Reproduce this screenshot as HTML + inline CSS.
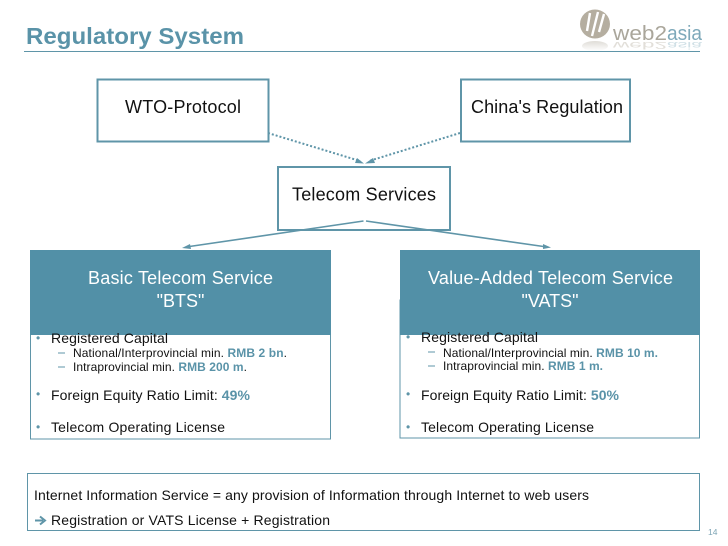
<!DOCTYPE html>
<html lang="en">
<head>
<meta charset="utf-8">
<title>Regulatory System</title>
<style>
html,body{margin:0;padding:0;background:#fff;}
#p{position:relative;width:728px;height:546px;overflow:hidden;background:#fff;}
svg{position:absolute;left:0;top:0;}
text{font-family:"Liberation Sans",Arial,sans-serif;fill:#111;}
.b{fill:#5a93a8;font-weight:bold;}
</style>
</head>
<body>
<div id="p">
<svg width="728" height="546" viewBox="0 0 728 546" xmlns="http://www.w3.org/2000/svg">
<defs>
<linearGradient id="fade" x1="0" y1="0" x2="0" y2="1">
<stop offset="0" stop-color="#b9b3a6" stop-opacity=".45"/>
<stop offset="1" stop-color="#b9b3a6" stop-opacity="0"/>
</linearGradient>
</defs>

<!-- title -->
<text x="26" y="44" font-size="23.5" font-weight="bold" style="fill:#5a93a8" textLength="218" lengthAdjust="spacingAndGlyphs">Regulatory System</text>
<line x1="24" y1="51.5" x2="700" y2="51.5" stroke="#5f95a8" stroke-width="1"/>

<!-- logo -->
<ellipse cx="595" cy="24" rx="15" ry="14.5" fill="#b5aea0"/>
<path d="M590 13 L587 31 M598 12 L592 36 M604 14 L599 32" stroke="#fff" stroke-width="2.4" fill="none"/>
<ellipse cx="595" cy="46" rx="13" ry="5" fill="url(#fade)"/>
<text x="613" y="40" font-size="20" style="fill:#aaa69b" textLength="54" lengthAdjust="spacingAndGlyphs">web2</text>
<text x="667" y="40" font-size="20" style="fill:#7ea9ba" textLength="35" lengthAdjust="spacingAndGlyphs">asia</text>
<text transform="translate(613,42) scale(1,-.5)" font-size="20" style="fill:#e2dfd9" textLength="54" lengthAdjust="spacingAndGlyphs">web2</text>
<text transform="translate(667,42) scale(1,-.5)" font-size="20" style="fill:#d0e0e6" textLength="35" lengthAdjust="spacingAndGlyphs">asia</text>

<!-- top boxes -->
<rect x="97.5" y="79.5" width="171" height="62" fill="#fff" stroke="#5f95a8" stroke-width="2"/>
<text x="125" y="113" font-size="18" textLength="116">WTO-Protocol</text>
<rect x="461" y="79.5" width="169" height="62" fill="#fff" stroke="#5f95a8" stroke-width="2"/>
<text x="471" y="113" font-size="18" textLength="152">China's Regulation</text>

<!-- dotted connectors -->
<line x1="268" y1="133" x2="360" y2="161" stroke="#5f95a8" stroke-width="2" stroke-dasharray="2 2"/>
<polygon points="364,163.5 357,158 355,163" fill="#5f95a8"/>
<line x1="460" y1="133" x2="369" y2="161" stroke="#5f95a8" stroke-width="2" stroke-dasharray="2 2"/>
<polygon points="365,163.5 373,158 375,163" fill="#5f95a8"/>

<!-- telecom -->
<rect x="278" y="167" width="172" height="63" fill="#fff" stroke="#5f95a8" stroke-width="2"/>
<text x="292" y="200.5" font-size="18" textLength="144">Telecom Services</text>

<!-- solid connectors -->
<line x1="363.5" y1="221" x2="186" y2="247" stroke="#5f95a8" stroke-width="1.6"/>
<polygon points="182,248 190,244 191,249" fill="#5f95a8"/>
<line x1="366" y1="221" x2="547" y2="247" stroke="#5f95a8" stroke-width="1.6"/>
<polygon points="551,247.5 543,244 543,249" fill="#5f95a8"/>

<!-- BTS -->
<rect x="30.5" y="300" width="300" height="139" fill="#fff" stroke="#5f95a8" stroke-width="1"/>
<rect x="30" y="250" width="301" height="85" fill="#5290a7"/>
<text x="88" y="284" font-size="18" style="fill:#fff" textLength="185">Basic Telecom Service</text>
<text x="180.5" y="307" font-size="18" text-anchor="middle" style="fill:#fff">"BTS"</text>
<text x="36" y="342" font-size="12" style="fill:#5f95a8">•</text>
<text x="51" y="343" font-size="14" textLength="117">Registered Capital</text>
<rect x="58" y="352.500" width="7" height="1" fill="#5f95a8"/>
<text x="73" y="357" font-size="12" textLength="214">National/Interprovincial min. <tspan class="b">RMB 2 bn</tspan>.</text>
<rect x="58" y="366.500" width="7" height="1" fill="#5f95a8"/>
<text x="73" y="371" font-size="12" textLength="174">Intraprovincial min. <tspan class="b">RMB 200 m</tspan>.</text>
<text x="36" y="398" font-size="12" style="fill:#5f95a8">•</text>
<text x="51" y="400" font-size="14" textLength="199">Foreign Equity Ratio Limit: <tspan class="b">49%</tspan></text>
<text x="36" y="431" font-size="12" style="fill:#5f95a8">•</text>
<text x="51" y="432" font-size="14" textLength="174">Telecom Operating License</text>

<!-- VATS -->
<rect x="400" y="300" width="299.500" height="138" fill="#fff" stroke="#5f95a8" stroke-width="1"/>
<rect x="400" y="250" width="300" height="85" fill="#5290a7"/>
<text x="428" y="284" font-size="18" style="fill:#fff" textLength="245">Value-Added Telecom Service</text>
<text x="550" y="307" font-size="18" text-anchor="middle" style="fill:#fff">"VATS"</text>
<text x="406" y="341" font-size="12" style="fill:#5f95a8">•</text>
<text x="421" y="342" font-size="14" textLength="117">Registered Capital</text>
<rect x="428" y="351.500" width="7" height="1" fill="#5f95a8"/>
<text x="443" y="357" font-size="12" textLength="215">National/Interprovincial min. <tspan class="b">RMB 10 m.</tspan></text>
<rect x="428" y="365.500" width="7" height="1" fill="#5f95a8"/>
<text x="443" y="370" font-size="12" textLength="160">Intraprovincial min. <tspan class="b">RMB 1 m.</tspan></text>
<text x="406" y="398" font-size="12" style="fill:#5f95a8">•</text>
<text x="421" y="400" font-size="14" textLength="198">Foreign Equity Ratio Limit: <tspan class="b">50%</tspan></text>
<text x="406" y="431" font-size="12" style="fill:#5f95a8">•</text>
<text x="421" y="432" font-size="14" textLength="173">Telecom Operating License</text>

<!-- bottom box -->
<rect x="27.500" y="473.500" width="672" height="57" fill="#fff" stroke="#5f95a8" stroke-width="1"/>
<text x="34" y="500" font-size="14" textLength="555">Internet Information Service = any provision of Information through Internet to web users</text>
<path d="M35 520.500 H43 M40 516.500 L45 520.500 L40 524.500" fill="none" stroke="#5f95a8" stroke-width="2"/>
<text x="51" y="525" font-size="14" textLength="279">Registration or VATS License + Registration</text>

<text x="708" y="535" font-size="8.500" style="fill:#7ea5b5">14</text>
</svg>
</div>
</body>
</html>
